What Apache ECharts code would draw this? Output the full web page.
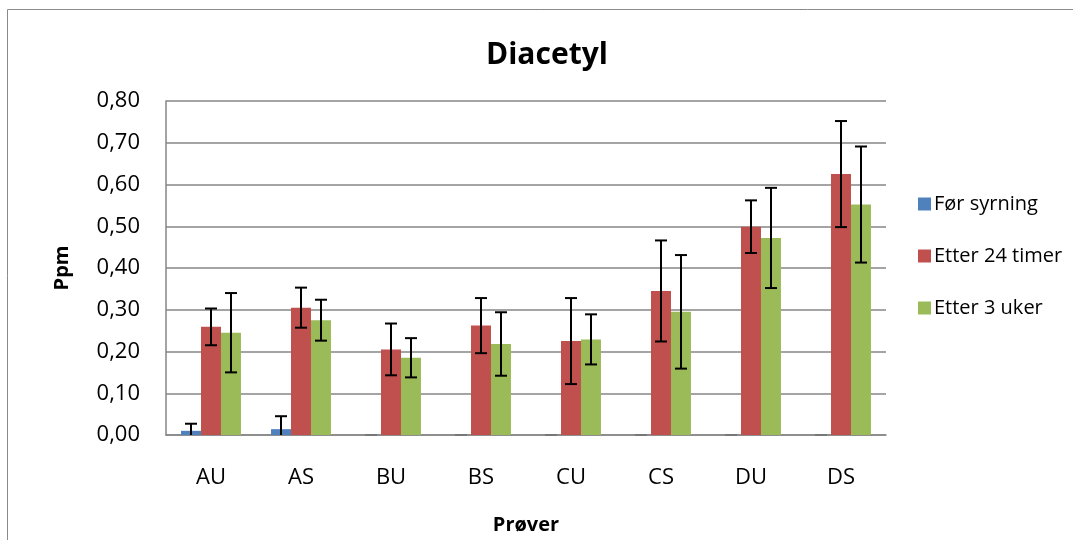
<!DOCTYPE html>
<html>
<head>
<meta charset="utf-8">
<script src="https://cdn.jsdelivr.net/npm/echarts@6/dist/echarts.min.js"></script>
<style>html,body{margin:0;padding:0;background:#fff;}#c{width:1073px;height:540px;}</style>
</head>
<body>
<div id="c"></div>
<script>
var categories = ['AU', 'AS', 'BU', 'BS', 'CU', 'CS', 'DU', 'DS'];
var seriesNames = ['Før syrning', 'Etter 24 timer', 'Etter 3 uker'];
var beforeVals = [0.010, 0.014, 0, 0, 0, 0, 0, 0];
var beforeErr = [0.017, 0.031, 0, 0, 0, 0, 0, 0];
var after24Vals = [0.259, 0.305, 0.205, 0.262, 0.225, 0.345, 0.499, 0.625];
var after24Err = [0.044, 0.048, 0.062, 0.066, 0.103, 0.121, 0.063, 0.127];
var after3wVals = [0.245, 0.275, 0.185, 0.218, 0.229, 0.295, 0.472, 0.552];
var after3wErr = [0.095, 0.049, 0.047, 0.076, 0.060, 0.136, 0.120, 0.139];
var yTicks = [0, 0.1, 0.2, 0.3, 0.4, 0.5, 0.6, 0.7, 0.8];

var colors = ['#4F81BD', '#C0504D', '#9BBB59'];
var valueSets = [beforeVals, after24Vals, after3wVals];
var errSets = [beforeErr, after24Err, after3wErr];
var BAR_FRAC = 0.222;
var FONT = '"Open Sans", "Noto Sans", sans-serif';

function errorSeries(k) {
  var data = categories.map(function (c, i) { return [i, valueSets[k][i], errSets[k][i]]; });
  return {
    type: 'custom',
    name: seriesNames[k] + ' err',
    z: 10,
    silent: true,
    data: data,
    encode: { x: 0, y: 1 },
    renderItem: function (params, api) {
      var i = api.value(0), v = api.value(1), e = api.value(2);
      var band = api.size([1, 0])[0];
      var off = (k - 1) * band * BAR_FRAC;
      var hi = api.coord([i, v + e]);
      var lo = api.coord([i, Math.max(0, v - e)]);
      var x = hi[0] + off;
      var cap = 6;
      var st = { stroke: '#000', lineWidth: 2 };
      var ch = [
        { type: 'line', shape: { x1: x, y1: hi[1], x2: x, y2: lo[1] }, style: st },
        { type: 'line', shape: { x1: x - cap, y1: hi[1], x2: x + cap, y2: hi[1] }, style: st }
      ];
      if (v - e >= 0) {
        ch.push({ type: 'line', shape: { x1: x - cap, y1: lo[1], x2: x + cap, y2: lo[1] }, style: e === 0 ? { stroke: '#777', lineWidth: 2 } : st });
      }
      return { type: 'group', children: ch };
    }
  };
}

var series = [];
for (var k = 0; k < 3; k++) {
  series.push({
    type: 'bar',
    name: seriesNames[k],
    data: valueSets[k],
    barWidth: (BAR_FRAC * 100) + '%',
    barGap: '0%',
    itemStyle: { color: colors[k] },
    silent: true
  });
}
for (var k2 = 0; k2 < 3; k2++) series.push(errorSeries(k2));

var chart = echarts.init(document.getElementById('c'), null, { renderer: 'canvas' });
chart.setOption({
  animation: false,
  backgroundColor: '#fff',
  graphic: [{
    type: 'rect',
    shape: { x: 7.5, y: 9.5, width: 1200, height: 700 },
    style: { fill: 'none', stroke: '#8a8a8a', lineWidth: 1 },
    z: -1
  }],
  title: {
    text: 'Diacetyl',
    left: 481,
    top: 35,
    textStyle: { fontFamily: FONT, fontWeight: 'bold', fontSize: 30, color: '#000' }
  },
  legend: {
    orient: 'vertical',
    left: 913,
    top: 189,
    itemWidth: 13,
    itemHeight: 13,
    itemGap: 32,
    icon: 'rect',
    data: seriesNames,
    textStyle: { fontFamily: FONT, fontSize: 20, color: '#000', lineHeight: 20, padding: [0, 0, 0, -2] }
  },
  grid: { left: 166, right: 187, top: 101, bottom: 104, containLabel: false },
  xAxis: {
    type: 'category',
    data: categories,
    name: 'Prøver',
    nameLocation: 'middle',
    nameGap: 80,
    nameTextStyle: { fontFamily: FONT, fontWeight: 'bold', fontSize: 20, color: '#000' },
    axisLine: { show: true, lineStyle: { color: '#868686', width: 1.5 } },
    axisTick: { show: false },
    axisLabel: { fontFamily: FONT, fontSize: 22, color: '#000', margin: 32 }
  },
  yAxis: {
    type: 'value',
    min: 0,
    max: 0.8,
    interval: 0.1,
    name: 'Ppm',
    nameLocation: 'middle',
    nameRotate: 90,
    nameGap: 94,
    nameTextStyle: { fontFamily: FONT, fontWeight: 'bold', fontSize: 20, color: '#000' },
    axisLine: { show: true, lineStyle: { color: '#868686', width: 1.5 } },
    axisTick: { show: false },
    axisLabel: {
      fontFamily: FONT, fontSize: 22, color: '#000', margin: 26,
      formatter: function (v) {
        var t = yTicks.reduce(function (a, b) { return Math.abs(b - v) < Math.abs(a - v) ? b : a; });
        return t.toFixed(2).replace('.', ',');
      }
    },
    splitLine: { show: true, lineStyle: { color: '#868686', width: 1.5 } }
  },
  series: series
});
</script>
</body>
</html>
